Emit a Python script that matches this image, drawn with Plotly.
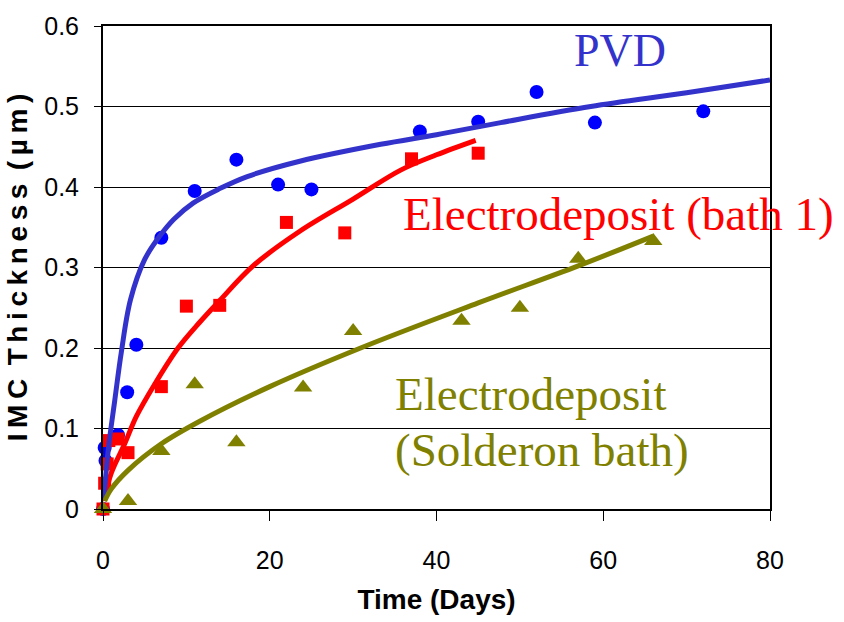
import plotly.graph_objects as go

# ---- data ----
pvd_days = [0, 0.2, 0.3, 1.8, 2.9, 4, 7, 11, 16, 21, 25, 38, 45, 52, 59, 72]
pvd_um = [0, 0.076, 0.06, 0.092, 0.145, 0.204, 0.337, 0.395, 0.434, 0.403, 0.397, 0.469, 0.481, 0.518, 0.480, 0.494]

bath1_days = [0, 0.2, 0.5, 0.7, 1.8, 3, 7, 10, 14, 22, 29, 37, 45]
bath1_um = [0, 0.032, 0.056, 0.085, 0.087, 0.070, 0.152, 0.252, 0.253, 0.356, 0.343, 0.435, 0.442]

sold_days = [0, 3, 7, 11, 16, 24, 30, 43, 50, 57, 66]
sold_um = [0, 0.010, 0.072, 0.155, 0.083, 0.151, 0.221, 0.234, 0.250, 0.311, 0.333]

# trend curves
pvd_fit_days = [0.05, 0.25, 0.7, 1.4, 2.2, 3.3, 5, 6.8, 8.5, 10.8, 14, 17.3, 23.6, 33.3, 40, 47.7, 58.5, 70, 80]
pvd_fit_um = [0.011, 0.032, 0.08, 0.134, 0.195, 0.26, 0.31, 0.339, 0.36, 0.38, 0.398, 0.413, 0.432, 0.453, 0.465, 0.48, 0.5, 0.517, 0.533]

bath1_fit_days = [0.1, 1, 2.6, 4, 6.2, 9, 11.6, 14, 18, 23.6, 30, 35.7, 40, 44.7]
bath1_fit_um = [0.01, 0.045, 0.081, 0.115, 0.155, 0.2, 0.232, 0.259, 0.302, 0.345, 0.385, 0.421, 0.44, 0.458]

sold_fit_days = [0.2, 1, 3, 7, 11.6, 20, 30.9, 45, 57, 66]
sold_fit_um = [0.01, 0.025, 0.048, 0.081, 0.109, 0.152, 0.2, 0.256, 0.302, 0.339]

x_ticks = [0, 20, 40, 60, 80]
y_ticks = [0, 0.1, 0.2, 0.3, 0.4, 0.5, 0.6]
y_tick_text = ["0", "0.1", "0.2", "0.3", "0.4", "0.5", "0.6"]

BLUE_LINE = "#3333CC"
BLUE_MK = "#0000FF"
RED = "#FF0000"
OLIVE = "#808000"

fig = go.Figure()

fig.add_trace(go.Scatter(x=pvd_days, y=pvd_um, mode="markers", cliponaxis=False,
                         marker=dict(symbol="circle", size=14, color=BLUE_MK), showlegend=False))
fig.add_trace(go.Scatter(x=bath1_days, y=bath1_um, mode="markers", cliponaxis=False,
                         marker=dict(symbol="square", size=13, color=RED), showlegend=False))
fig.add_trace(go.Scatter(x=sold_days, y=sold_um, mode="markers", cliponaxis=False,
                         marker=dict(symbol="triangle-up", size=16, color=OLIVE), showlegend=False))

fig.add_trace(go.Scatter(x=bath1_fit_days, y=bath1_fit_um, mode="lines", cliponaxis=False,
                         line=dict(color=RED, width=5, shape="spline"), showlegend=False))
fig.add_trace(go.Scatter(x=pvd_fit_days, y=pvd_fit_um, mode="lines", cliponaxis=False,
                         line=dict(color=BLUE_LINE, width=5, shape="spline"), showlegend=False))
fig.add_trace(go.Scatter(x=sold_fit_days, y=sold_fit_um, mode="lines", cliponaxis=False,
                         line=dict(color=OLIVE, width=5, shape="spline"), showlegend=False))

serif = "Liberation Serif, Times New Roman, serif"
fig.add_annotation(x=56.3, y=0.5695, text="PVD", showarrow=False, xanchor="left", yanchor="middle",
                   font=dict(family=serif, size=46, color=BLUE_LINE))
fig.add_annotation(x=35.8, y=0.3660, text="Electrodeposit (bath 1)", showarrow=False, xanchor="left",
                   yanchor="middle", font=dict(family=serif, size=47, color=RED))
fig.add_annotation(x=34.8, y=0.1430, text="Electrodeposit", showarrow=False, xanchor="left",
                   yanchor="middle", font=dict(family=serif, size=47, color=OLIVE))
fig.add_annotation(x=34.8, y=0.0727, text="(Solderon bath)", showarrow=False, xanchor="left",
                   yanchor="middle", font=dict(family=serif, size=47, color=OLIVE))

sans = "Liberation Sans, Arial, sans-serif"
ts = "\u2009"
ytitle = ts.join(list("IMC")) + "\u00a0" + ts + ts.join(list("Thickness")) + "\u00a0" + ts + ts.join(list("(µm)"))

fig.update_xaxes(range=[0, 80], tickvals=x_ticks, ticktext=[str(v) for v in x_ticks],
                 ticks="outside", ticklen=10, tickcolor="black", tickwidth=1,
                 showline=True, linecolor="black", linewidth=2, mirror=True,
                 showgrid=False, zeroline=False, ticklabelstandoff=18,
                 tickfont=dict(family=sans, size=25, color="black"),
                 title=dict(text="<b>Time (Days)</b>", standoff=16,
                            font=dict(family=sans, size=28, color="black")))
fig.update_yaxes(range=[0, 0.6], tickvals=y_ticks, ticktext=y_tick_text,
                 ticks="outside", ticklen=7, tickcolor="black", tickwidth=1,
                 showline=True, linecolor="black", linewidth=2, mirror=True,
                 showgrid=True, gridcolor="black", gridwidth=1, zeroline=False,
                 ticklabelstandoff=10,
                 tickfont=dict(family=sans, size=25, color="black"),
                 title=dict(text="<b>" + ytitle + "</b>", standoff=8,
                            font=dict(family=sans, size=28, color="black")))

fig.update_layout(width=844, height=622, margin=dict(l=103, r=74, t=21, b=113),
                  paper_bgcolor="white", plot_bgcolor="white")

fig.write_html("out.html")
